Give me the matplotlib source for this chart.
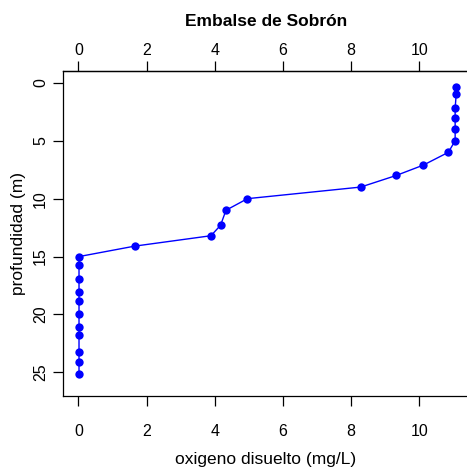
import matplotlib
matplotlib.use("Agg")
import matplotlib.pyplot as plt

plt.rcParams['font.family'] = ['Liberation Sans', 'DejaVu Sans']

# perfil de oxigeno disuelto, Embalse de Sobron
profundidad = [0.4, 1.0, 2.2, 3.0, 4.0, 5.0, 6.0, 7.1, 8.0, 9.0, 10.0, 11.0,
               12.3, 13.2, 14.1, 15.0, 15.7, 16.9, 18.1, 18.8, 20.0, 21.1,
               21.8, 23.2, 24.1, 25.1]
oxigeno = [11.08, 11.08, 11.05, 11.05, 11.05, 11.05, 10.85, 10.12, 9.32, 8.28,
           4.96, 4.33, 4.17, 3.89, 1.65, 0.02, 0.02, 0.02, 0.02, 0.02, 0.02,
           0.02, 0.02, 0.02, 0.02, 0.02]
xticks = [0, 2, 4, 6, 8, 10]
yticks = [0, 5, 10, 15, 20, 25]

fig = plt.figure(figsize=(4.67, 4.70), dpi=100)
ax = fig.add_axes([0.1356, 0.1574, 0.8675, 0.692])

ax.plot(oxigeno, profundidad, color='#0000ff', lw=1.0, marker='o',
        markersize=6, markeredgewidth=0)

ax.set_xlim(-0.44, 11.44)
ax.set_ylim(27.04, -1.04)
ax.set_xticks(xticks)
ax.set_yticks(yticks)

fs = 11.5
for s in ax.spines.values():
    s.set_linewidth(0.9)
ax.tick_params(axis='both', length=7.5, width=0.9, labelsize=fs, direction='out')
ax.tick_params(axis='x', pad=12.5)
ax.tick_params(axis='y', pad=3.5)
plt.setp(ax.get_yticklabels(), rotation=90, va='center')

top = ax.secondary_xaxis('top')
top.set_xticks(xticks)
top.tick_params(length=7.5, width=0.9, labelsize=fs, pad=1.5, direction='out')
top.spines['top'].set_linewidth(0.9)

ax.set_xlabel('oxigeno disuelto (mg/L)', fontsize=12.5, labelpad=9.5)
ax.set_ylabel('profundidad (m)', fontsize=12.5, labelpad=5)
fig.text(0.569, 0.955, 'Embalse de Sobrón', fontsize=12.5, fontweight='bold',
         ha='center', va='center')

fig.savefig('out.png', dpi=100)
